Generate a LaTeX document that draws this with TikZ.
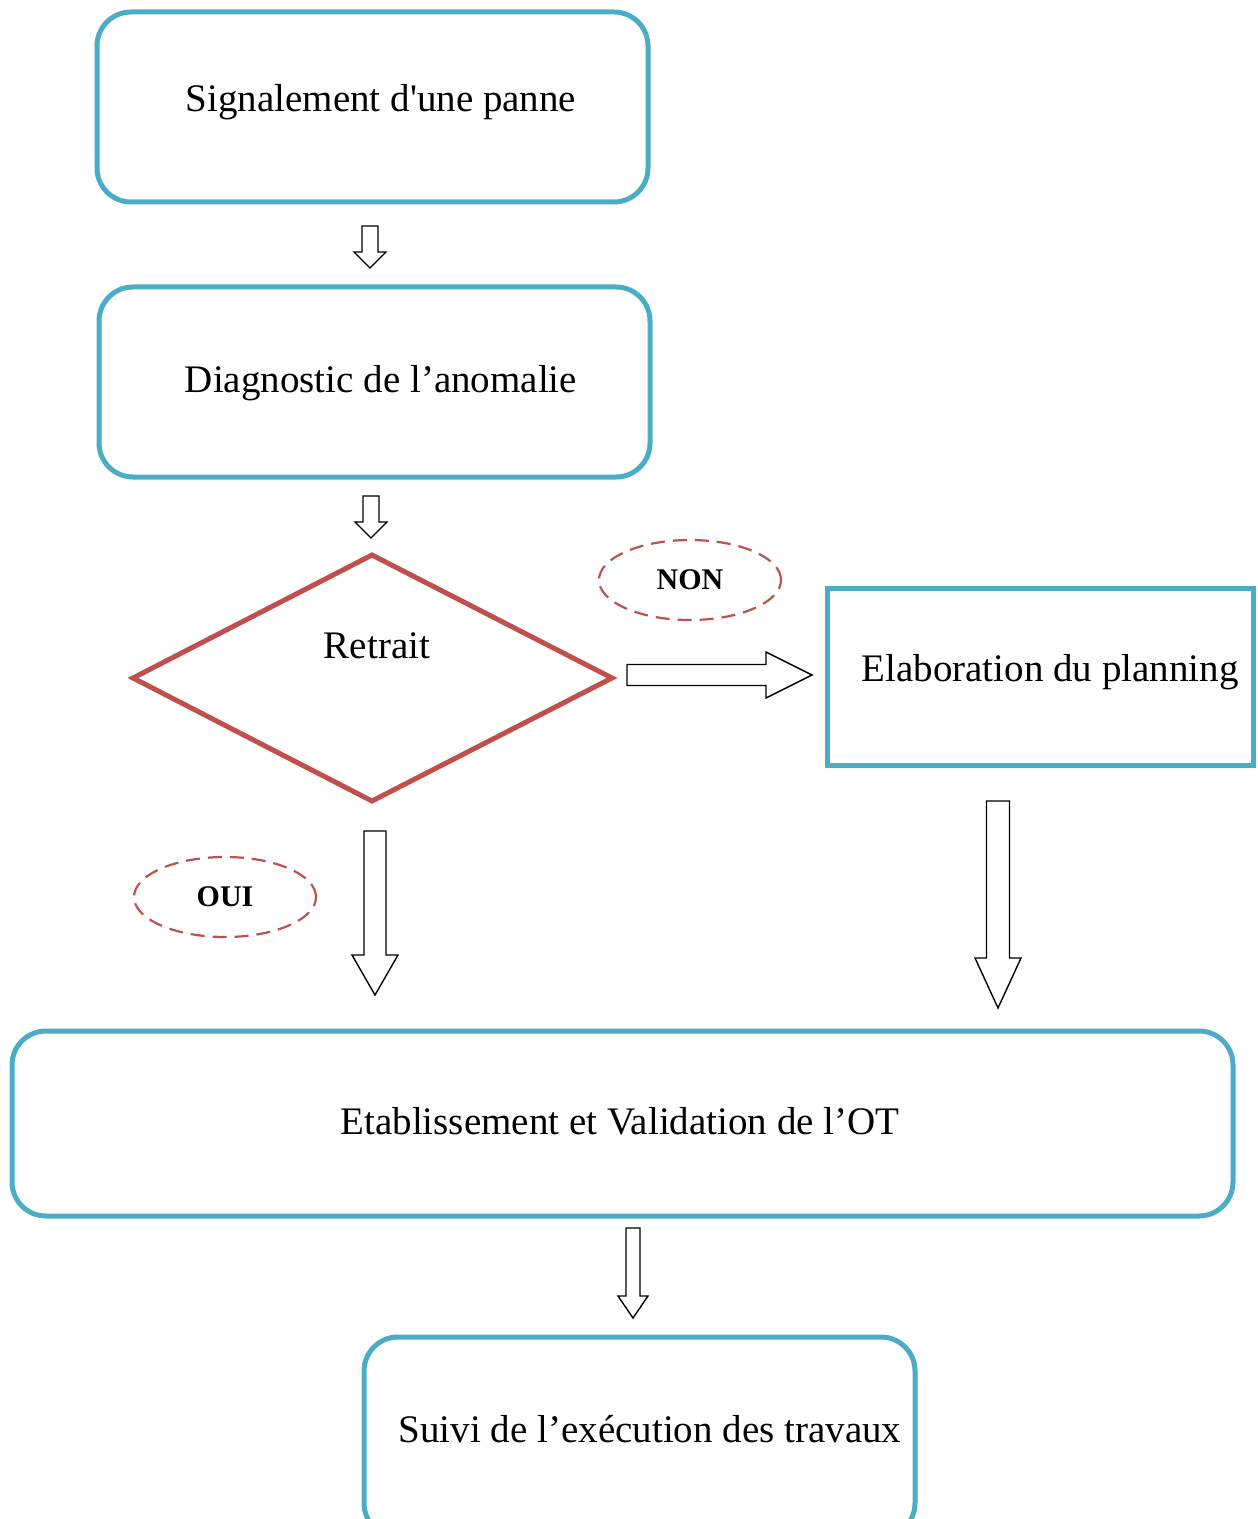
\documentclass[tikz,border=0pt]{standalone}
\usepackage{fontspec}
\setmainfont{Liberation Serif}
\usetikzlibrary{shapes.geometric}
\definecolor{boxblue}{HTML}{4BACC6}
\definecolor{decred}{HTML}{C0504D}
\newcommand\darrow[6]{% x, ytop, ybot, shaft half, head half, head length
  \draw[blkarrow] (#1-#4,#2) -- (#1+#4,#2) -- (#1+#4,#3-#6) -- (#1+#5,#3-#6) -- (#1,#3)
    -- (#1-#5,#3-#6) -- (#1-#4,#3-#6) -- cycle;}
\newcommand\rarrow[6]{% y, xleft, xright, shaft half, head half, head length
  \draw[blkarrow] (#2,#1-#4) -- (#3-#6,#1-#4) -- (#3-#6,#1-#5) -- (#3,#1) -- (#3-#6,#1+#5)
    -- (#3-#6,#1+#4) -- (#2,#1+#4) -- cycle;}
\begin{document}
\begin{tikzpicture}[x=0.5pt,y=-0.5pt,
  every node/.style={font=\fontsize{19.5}{23}\selectfont},
  rbox/.style={draw=boxblue,line width=2.5pt,rounded corners=17pt,inner sep=0pt},
  sbox/.style={draw=boxblue,line width=2.5pt,inner sep=0pt},
  tag/.style={draw=decred,line width=1.1pt,dash pattern=on 7pt off 4pt,ellipse,
    minimum width=91pt,minimum height=40pt,inner sep=0pt,
    font=\fontsize{15}{18}\selectfont\bfseries},
  blkarrow/.style={draw=black,line width=0.7pt,fill=white,line join=miter}]
\useasboundingbox (0,0) rectangle (1257,1519);
\clip (0,0) rectangle (1257,1519);

\node[rbox,minimum width=275.5pt,minimum height=95pt] (sig) at (372.5,107) {};
\node (sigt) at (381,102) {Signalement d\textquotesingle une panne};

\node[rbox,minimum width=275.5pt,minimum height=95pt] (diag) at (374.5,382) {};
\node (diagt) at (381,383) {Diagnostic de l’anomalie};

\draw[draw=decred,line width=2.5pt,line join=miter] (133,678) coordinate (dl) -- (372,555) coordinate (dt)
  -- (612,678) coordinate (dr) -- (372,801) coordinate (db) -- cycle;
\node (ret) at (377,646) {Retrait};

\node[tag] (non) at (690,580) {NON};
\node[tag] (oui) at (225,897) {OUI};

\node[sbox,minimum width=213pt,minimum height=88.5pt] (elab) at (1040,676.5) {};
\node (elabt) at (1050,672) {Elaboration du planning};

\node[rbox,minimum width=610.5pt,minimum height=92.5pt] (ot) at (622.5,1123.5) {};
\node (ott) at (620,1121) {Etablissement et Validation de l’OT};

\node[rbox,minimum width=275.5pt,minimum height=100pt] (suivi) at (639.5,1437) {};
\node (suivit) at (650,1429) {Suivi de l’exécution des travaux};

\darrow{370}{226}{268}{8}{16}{16}
\darrow{371}{496}{538}{8}{16}{16}
\rarrow{675}{627}{812}{10.5}{23}{46}
\darrow{375}{831}{995}{11}{23}{40}
\darrow{998}{801}{1008}{11.5}{23}{50}
\darrow{633}{1228}{1318}{7}{15}{22}
\end{tikzpicture}
\end{document}
